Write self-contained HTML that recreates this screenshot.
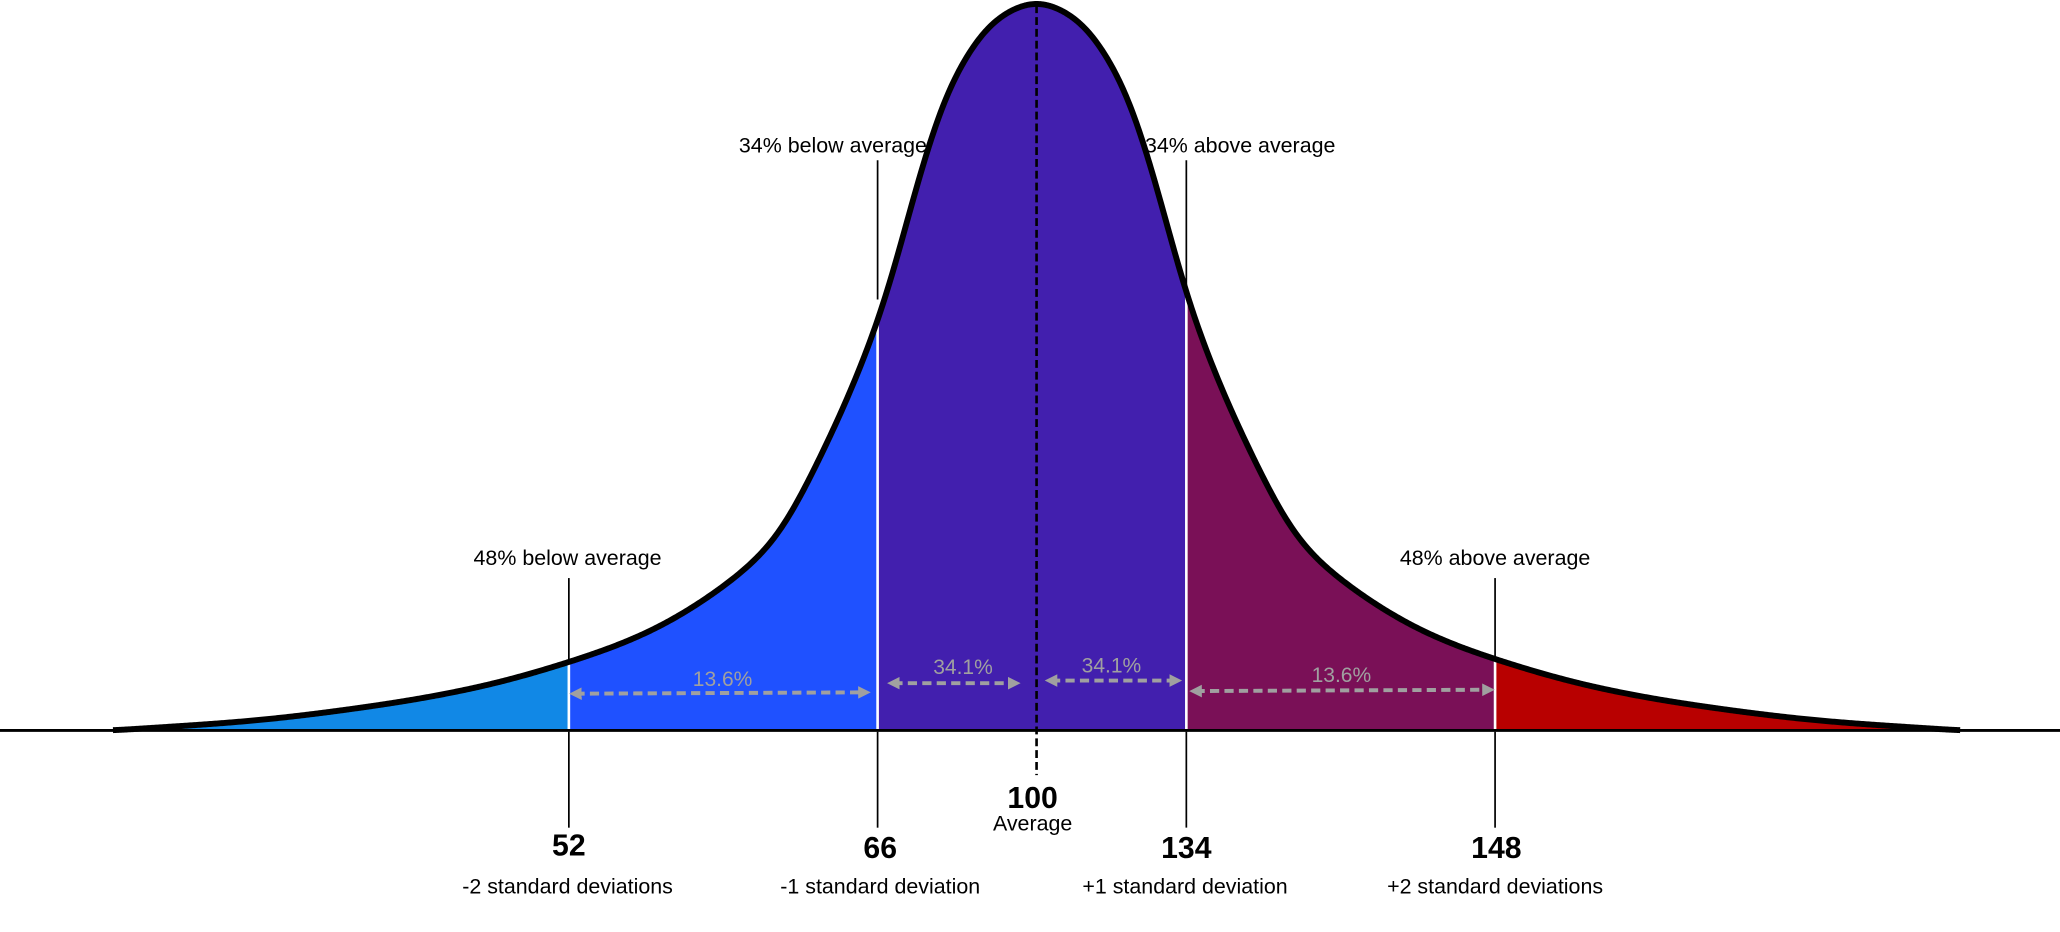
<!DOCTYPE html>
<html><head><meta charset="utf-8"><style>
html,body{margin:0;padding:0;background:#fff;width:2060px;height:932px;overflow:hidden}
svg{display:block}
text{font-family:"Liberation Sans",Arial,sans-serif}
</style></head><body>
<svg id="s" width="2060" height="932" viewBox="0 0 1568 709.4" xmlns="http://www.w3.org/2000/svg">
<defs>
<clipPath id="cp"><path id="cpp" d=""/></clipPath>
<marker id="ah" viewBox="0 0 10 10" refX="5" refY="5" markerWidth="3.2" markerHeight="3.2" orient="auto-start-reverse"><path d="M0,0 L10,5 L0,10 z" fill="#a0a0a0"/></marker>
</defs>
<g clip-path="url(#cp)">
<rect x="0" y="0" width="433" height="560" fill="#1188e6"/>
<rect x="433" y="0" width="235" height="560" fill="#1f51ff"/>
<rect x="668" y="0" width="235" height="560" fill="#421fae"/>
<rect x="903" y="0" width="235" height="560" fill="#7a1057"/>
<rect x="1138" y="0" width="430" height="560" fill="#b80000"/>
</g>
<g stroke="#fff" stroke-width="2">
<line x1="433" y1="500" x2="433" y2="556"/><line x1="668" y1="225" x2="668" y2="556"/>
<line x1="903" y1="225" x2="903" y2="556"/><line x1="1138" y1="498" x2="1138" y2="556"/>
</g>
<g stroke="#000" stroke-width="1.3">
<line x1="433" y1="440" x2="433" y2="503"/><line x1="433" y1="557" x2="433" y2="630"/>
<line x1="668" y1="122" x2="668" y2="228"/><line x1="668" y1="557" x2="668" y2="630"/>
<line x1="903" y1="122" x2="903" y2="228"/><line x1="903" y1="557" x2="903" y2="630"/>
<line x1="1138" y1="440" x2="1138" y2="500"/><line x1="1138" y1="557" x2="1138" y2="630"/>
</g>
<line x1="789" y1="4" x2="789" y2="590" stroke="#000" stroke-width="2" stroke-dasharray="6,3"/>
<path id="curve" d="" fill="none" stroke="#000" stroke-width="4.5" stroke-linejoin="round"/>
<line x1="0" y1="556" x2="1568" y2="556" stroke="#000" stroke-width="2.2"/>
<g stroke="#a0a0a0" stroke-width="3" stroke-dasharray="7,4" fill="none" marker-start="url(#ah)" marker-end="url(#ah)">
<line x1="438" y1="528" x2="658" y2="527"/>
<line x1="680" y1="520" x2="772" y2="520"/>
<line x1="800" y1="518" x2="895" y2="518"/>
<line x1="910" y1="526" x2="1133" y2="525"/>
</g>
<g fill="#a0a0a0" font-size="16" text-anchor="middle">
<text x="550" y="522">13.6%</text><text x="733" y="513">34.1%</text>
<text x="846" y="512">34.1%</text><text x="1021" y="519">13.6%</text>
</g>
<g fill="#000" font-size="16.3" text-anchor="middle">
<text x="634" y="116">34% below average</text><text x="944" y="116">34% above average</text>
<text x="432" y="430">48% below average</text><text x="1138" y="430">48% above average</text>
<text x="786" y="632">Average</text>
<text x="432" y="680">-2 standard deviations</text><text x="670" y="680">-1 standard deviation</text>
<text x="902" y="680">+1 standard deviation</text><text x="1138" y="680">+2 standard deviations</text>
</g>
<g fill="#000" font-size="23" font-weight="bold" text-anchor="middle">
<text x="786" y="615">100</text><text x="433" y="651">52</text><text x="670" y="653">66</text>
<text x="903" y="653">134</text><text x="1139" y="653">148</text>
</g>
</svg>
<script>
(function(){
var X=[0,28,66,91,114,162,201,239,297,349,429,500,600,703];
var F=[1,0.98,0.885,0.75,0.597,0.385,0.259,0.197,0.134,0.098,0.058,0.035,0.013,0];
var n=X.length,dl=[],m=[];
for(var i=0;i<n-1;i++)dl.push((F[i+1]-F[i])/(X[i+1]-X[i]));
m[0]=0;m[n-1]=dl[n-2];
for(var i=1;i<n-1;i++){if(dl[i-1]*dl[i]<=0)m[i]=0;else{var w1=2*(X[i+1]-X[i])+(X[i]-X[i-1]),w2=(X[i+1]-X[i])+2*(X[i]-X[i-1]);m[i]=(w1+w2)/(w1/dl[i-1]+w2/dl[i]);}}
function f(d){d=Math.abs(d);if(d>=703)return 0;var k=0;while(X[k+1]<d)k++;var h=X[k+1]-X[k],t=(d-X[k])/h,t2=t*t,t3=t2*t;
return (2*t3-3*t2+1)*F[k]+(t3-2*t2+t)*h*m[k]+(-2*t3+3*t2)*F[k+1]+(t3-t2)*h*m[k+1];}
var xs=[],ys=[];
for(var x=60;x<=1518;x++){xs.push(x);ys.push(f(x-789));}
for(var p=0;p<4;p++){var nw=ys.slice();for(var i=8;i<ys.length-8;i++){var s=0;for(var j=-8;j<=8;j++)s+=ys[i+j];nw[i]=s/17;}ys=nw;}
var mx=0;for(var i=0;i<ys.length;i++)if(ys[i]>mx)mx=ys[i];
var d="";
for(var i=0;i<xs.length;i++){if(xs[i]<86||xs[i]>1492)continue;var y=556-553*ys[i]/mx;d+=(d?" L":"M")+xs[i]+","+y.toFixed(2);}
document.getElementById("curve").setAttribute("d",d);
document.getElementById("cpp").setAttribute("d",d+" Z");
})();
</script>
</body></html>
